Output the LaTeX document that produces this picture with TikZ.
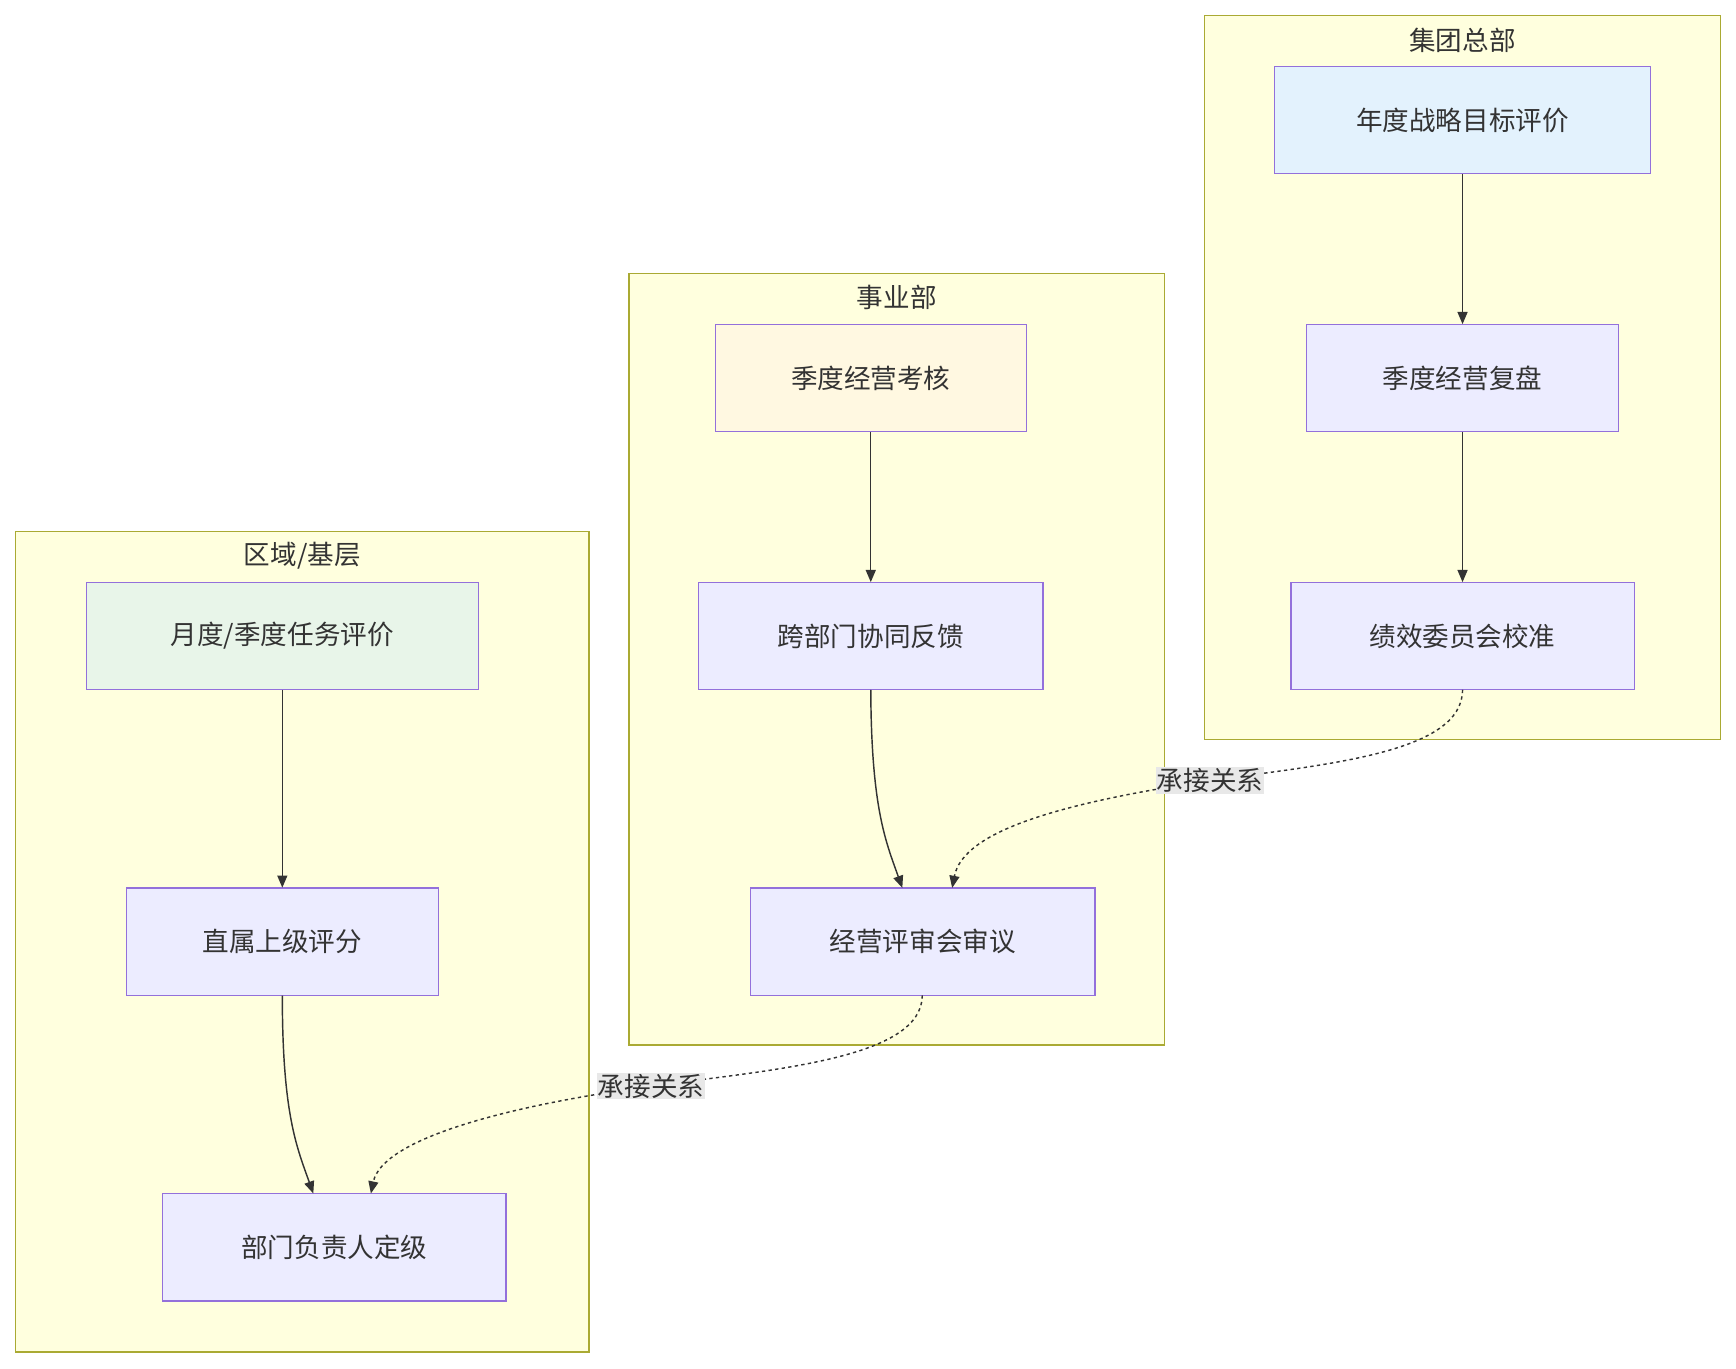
\documentclass[tikz,border=0pt]{standalone}
\usepackage{fontspec}
\setmainfont{Noto Sans CJK SC}
\usetikzlibrary{arrows.meta}
\definecolor{nfill}{HTML}{ECECFF}
\definecolor{nline}{HTML}{9370DB}
\definecolor{cfill}{HTML}{FFFFDE}
\definecolor{cline}{HTML}{AAAA33}
\definecolor{ecol}{HTML}{333333}
\definecolor{lbg}{HTML}{E8E8E8}
\definecolor{blue1}{HTML}{E3F2FD}
\definecolor{yel1}{HTML}{FFF8E1}
\definecolor{grn1}{HTML}{E8F5E9}
\begin{document}
\begin{tikzpicture}[x=1pt,y=-1pt,
  txt/.style={font=\fontsize{24}{28}\selectfont, text=ecol},
  clus/.style={draw=cline, fill=cfill, line width=1.2pt},
  nd/.style={draw=nline, fill=nfill, line width=1.2pt, txt},
  ar/.style={draw=ecol, line width=1.3pt, -{Triangle[length=11pt,width=9pt]}},
  da/.style={ar, dash pattern=on 3pt off 3pt},
  lb/.style={fill=lbg, txt, inner sep=1pt}]
\useasboundingbox (0,0) rectangle (1568,1236);
\draw[clus] (1088,14) rectangle (1554,668);
\draw[clus] (568,247) rectangle (1052,944);
\draw[clus] (14,480) rectangle (532,1221);
\node[txt] (t1) at (1321,36) {集团总部};
\node[txt] (t2) at (810,269) {事业部};
\node[txt] (t3) at (273,502) {区域/基层};
\newcommand{\bx}[6]{\path[nd,fill=#6] (#2,#3) rectangle (#4,#5);
  \node[txt,minimum width={#4-#2},minimum height={#5-#3},inner sep=0pt] (#1) at ({(#2+#4)/2},{(#3+#5)/2}) {};}
\bx{a1}{1151}{60}{1491}{157}{blue1}
\bx{a2}{1180}{293}{1462}{390}{nfill}
\bx{a3}{1166}{526}{1476}{623}{nfill}
\bx{b1}{646}{293}{927}{390}{yel1}
\bx{b2}{631}{526}{942}{623}{nfill}
\bx{b3}{678}{802}{989}{899}{nfill}
\bx{c1}{78}{526}{432}{623}{grn1}
\bx{c2}{114}{802}{396}{899}{nfill}
\bx{c3}{147}{1078}{457}{1175}{nfill}
\node[txt] at (a1) {年度战略目标评价};
\node[txt] at (a2) {季度经营复盘};
\node[txt] at (a3) {绩效委员会校准};
\node[txt] at (b1) {季度经营考核};
\node[txt] at (b2) {跨部门协同反馈};
\node[txt] at (b3) {经营评审会审议};
\node[txt] at (c1) {月度/季度任务评价};
\node[txt] at (c2) {直属上级评分};
\node[txt] at (c3) {部门负责人定级};
\draw[ar] (a1.south) -- (a2.north);
\draw[ar] (a2.south) -- (a3.north);
\draw[ar] (b1.south) -- (b2.north);
\draw[ar] (c1.south) -- (c2.north);
\draw[ar] (b2.south) .. controls (787,730) and (800,760) .. (815,802);
\draw[ar] (c2.south) .. controls (255,1006) and (268,1036) .. (283,1078);
\draw[da] (1321,623) .. controls (1321,680) and (1200,690) .. (1093,705)
  .. controls (960,725) and (870,750) .. (860,802);
\draw[da] (833,899) .. controls (833,956) and (700,966) .. (588,981)
  .. controls (450,1000) and (345,1030) .. (335,1078);
\node[lb] (l1) at (1093,705) {承接关系};
\node[lb] (l2) at (588,981) {承接关系};
\end{tikzpicture}
\end{document}
